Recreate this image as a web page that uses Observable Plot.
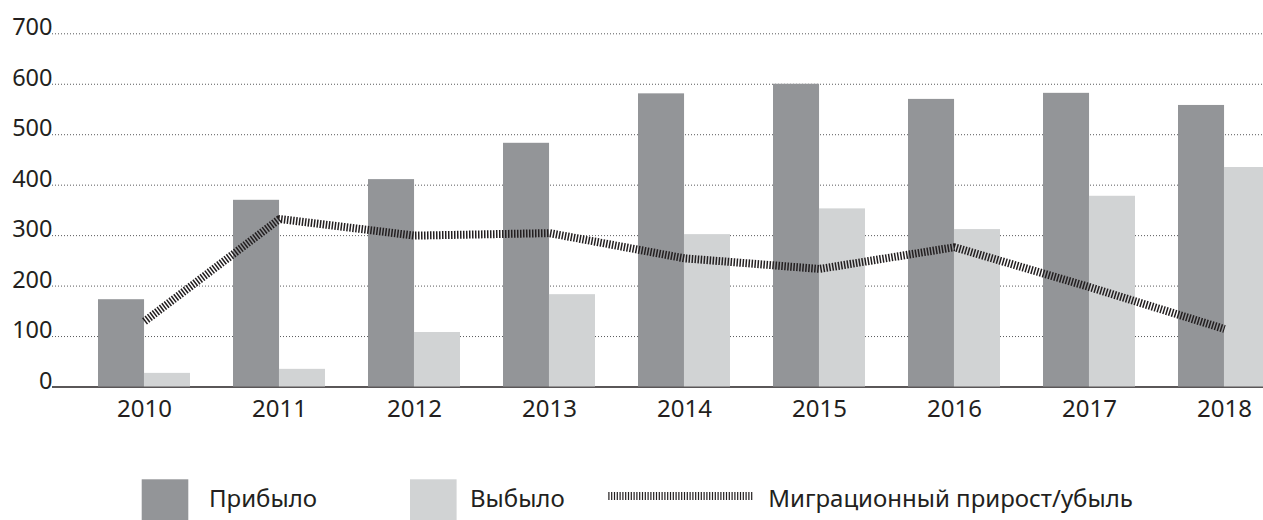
<!DOCTYPE html>
<html>
<head>
<meta charset="utf-8">
<script src="https://cdn.jsdelivr.net/npm/d3@7"></script>
<script src="https://cdn.jsdelivr.net/npm/@observablehq/plot@0.6"></script>
<style>
  html, body { margin: 0; padding: 0; background: #fff; overflow: hidden; width: 1263px; height: 520px; }
  #chart svg { display: block; }
  #legend { display: block; }
</style>
</head>
<body>
<div id="chart"></div>
<svg id="legend" width="1263" height="90"></svg>
<script>
// ---- data ----
const years = ["2010", "2011", "2012", "2013", "2014", "2015", "2016", "2017", "2018"];
const arrived = [173, 370, 411, 483, 581, 600, 570, 582, 558];      // Прибыло
const departed = [27, 35, 108, 183, 302, 353, 312, 378, 435];       // Выбыло
const migration = [130, 333, 300, 305, 255, 234, 277, 198, 115];    // Миграционный прирост/убыль
const yTicks = [0, 100, 200, 300, 400, 500, 600, 700];
const seriesNames = ["Прибыло", "Выбыло", "Миграционный прирост/убыль"];

const rows = years.map((y, i) => ({year: y, arrived: arrived[i], departed: departed[i], migration: migration[i]}));

const FONT = "'Noto Sans', 'Open Sans', sans-serif";
const INK = "#231f20";
const DARK = "#939598";
const LIGHT = "#d1d3d4";
const HALF = 45.95;

const chart = Plot.plot({
  width: 1263,
  height: 430,
  marginLeft: 52,
  marginRight: 0,
  marginTop: 33.3,
  marginBottom: 43.5,
  style: {fontFamily: FONT, color: INK, background: "white"},
  x: {type: "band", domain: years, range: [52, 1315], paddingInner: 0.32, paddingOuter: 0.3306, align: 0.5, axis: null},
  y: {domain: [0, 700], range: [386.5, 33.3], axis: null},
  marks: [
    Plot.ruleY(yTicks.filter(d => d > 0), {stroke: "#58595b", strokeWidth: 1, strokeDasharray: "1,2"}),
    Plot.ruleY([0], {stroke: INK, strokeWidth: 1.6}),
    Plot.barY(rows, {x: "year", y: "arrived", fill: DARK, insetRight: HALF}),
    Plot.barY(rows, {x: "year", y: "departed", fill: LIGHT, insetLeft: HALF}),
    Plot.line(rows, {x: "year", y: "migration", stroke: INK, strokeWidth: 8, strokeDasharray: "1.5,1.5", strokeLinecap: "butt", strokeLinejoin: "miter"}),
    Plot.axisX({tickSize: 0, tickPadding: 12.5, fontSize: 24, fill: INK, label: null}),
    Plot.text(yTicks, {y: d => d, text: d => String(d), frameAnchor: "left", textAnchor: "end", lineAnchor: "bottom", dy: 1.5, fontSize: 23.5, fill: INK})
  ]
});
document.getElementById("chart").appendChild(chart);

// ---- legend ----
const lg = d3.select("#legend").style("font-family", FONT);
const base = 76.7;
lg.append("rect").attr("x", 141.7).attr("y", 49.3).attr("width", 46.6).attr("height", 46.6).attr("fill", DARK);
lg.append("text").attr("x", 209).attr("y", base).attr("font-size", 24).attr("fill", INK).text(seriesNames[0]);
lg.append("rect").attr("x", 410).attr("y", 49.3).attr("width", 46.6).attr("height", 46.6).attr("fill", LIGHT);
lg.append("text").attr("x", 470).attr("y", base).attr("font-size", 24).attr("fill", INK).text(seriesNames[1]);
lg.append("line").attr("x1", 608.3).attr("x2", 753.3).attr("y1", 66).attr("y2", 66)
  .attr("stroke", INK).attr("stroke-width", 8).attr("stroke-dasharray", "1.2,1.6");
lg.append("text").attr("x", 768.3).attr("y", base).attr("font-size", 24).attr("fill", INK).text(seriesNames[2]);
</script>
</body>
</html>
